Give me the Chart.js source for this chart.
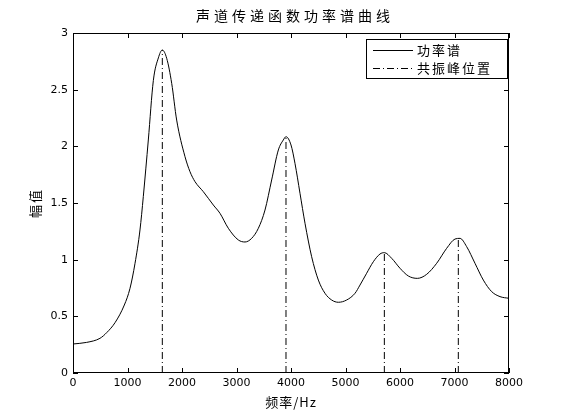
<!DOCTYPE html>
<html>
<head>
<meta charset="utf-8">
<script src="https://cdn.jsdelivr.net/npm/chart.js@4/dist/chart.umd.min.js"></script>
<style>
  html, body { margin: 0; padding: 0; background: #fff; }
  canvas { display: block; }
</style>
</head>
<body>
<canvas id="psdChart" width="562" height="420"></canvas>
<script>
// power spectrum curve
const freqHz = [0, 250, 495, 618, 771, 942, 1046, 1138, 1229, 1290, 1382, 1474, 1566, 1639,
    1719, 1811, 1902, 2055, 2147, 2239, 2391, 2575, 2697, 2850, 3033, 3156, 3278, 3401,
    3523, 3645, 3768, 3859, 3908, 4000, 4073, 4165, 4257, 4379, 4502, 4624, 4746, 4869,
    5021, 5174, 5266, 5388, 5511, 5633, 5713, 5847, 6000, 6153, 6318, 6490, 6673, 6856,
    7009, 7101, 7223, 7376, 7529, 7682, 7835, 8000];
const power = [0.256, 0.27, 0.306, 0.356, 0.444, 0.60, 0.747, 0.968, 1.262, 1.556, 2.056, 2.58, 2.78, 2.85,
    2.777, 2.556, 2.232, 1.909, 1.776, 1.688, 1.6, 1.482, 1.409, 1.277, 1.174, 1.156, 1.188, 1.277,
    1.438, 1.703, 1.968, 2.056, 2.085, 2.012, 1.85, 1.586, 1.321, 1.026, 0.82, 0.703, 0.644, 0.624,
    0.644, 0.703, 0.776, 0.88, 0.982, 1.05, 1.062, 1.012, 0.924, 0.856, 0.835, 0.871, 0.968, 1.1,
    1.182, 1.188, 1.115, 0.968, 0.82, 0.718, 0.674, 0.659];

// formant positions
const peakHz = [1639, 3908, 5713, 7070];
const peakAmp = [2.85, 2.085, 1.062, 1.19];

const xTicks = [0, 1000, 2000, 3000, 4000, 5000, 6000, 7000, 8000];
const yTicks = [0, 0.5, 1, 1.5, 2, 2.5, 3];

const titleText = '声道传递函数功率谱曲线';
const xLabel = '频率/Hz';
const yLabel = '幅值';

const cjkFont = '13px "Noto Sans CJK SC", sans-serif';

const curvePts = freqHz.map((f, i) => ({ x: f, y: power[i] }));
const peakPts = [];
peakHz.forEach((f, i) => {
    peakPts.push({ x: f, y: 0 }, { x: f, y: peakAmp[i] }, { x: f, y: null });
});

// box, inward ticks, titles and legend in the Matlab look
const matlabFrame = {
    id: 'matlabFrame',
    afterDraw(chart) {
        const ctx = chart.ctx;
        const a = chart.chartArea;
        const xs = chart.scales.x;
        const ys = chart.scales.y;
        ctx.save();
        ctx.strokeStyle = '#000';
        ctx.lineWidth = 1;
        ctx.strokeRect(Math.round(a.left) + 0.5, Math.round(a.top) + 0.5,
            Math.round(a.right - a.left) - 1, Math.round(a.bottom - a.top) - 1);

        ctx.beginPath();
        xTicks.forEach(v => {
            const px = Math.round(xs.getPixelForValue(v)) + 0.5;
            ctx.moveTo(px, a.bottom); ctx.lineTo(px, a.bottom - 5);
            ctx.moveTo(px, a.top); ctx.lineTo(px, a.top + 5);
        });
        yTicks.forEach(v => {
            const py = Math.round(ys.getPixelForValue(v)) + 0.5;
            ctx.moveTo(a.left, py); ctx.lineTo(a.left + 5, py);
            ctx.moveTo(a.right, py); ctx.lineTo(a.right - 5, py);
        });
        ctx.stroke();

        ctx.fillStyle = '#000';
        ctx.textBaseline = 'middle';
        ctx.textAlign = 'center';
        ctx.font = '14px "Noto Sans CJK SC", sans-serif';
        ctx.letterSpacing = '4px';
        ctx.fillText(titleText, (a.left + a.right) / 2 + 4, 16);

        ctx.font = cjkFont;
        ctx.letterSpacing = '1px';
        ctx.fillText(xLabel, (a.left + a.right) / 2, 402);

        ctx.save();
        ctx.translate(35, (a.top + a.bottom) / 2 + 1);
        ctx.rotate(-Math.PI / 2);
        ctx.letterSpacing = '2px';
        ctx.fillText(yLabel, 1, 0);
        ctx.restore();

        // legend
        const bx = 366, by = 39, bw = 141, bh = 39;
        ctx.fillStyle = '#fff';
        ctx.fillRect(bx, by, bw, bh);
        ctx.strokeRect(bx + 0.5, by + 0.5, bw, bh);
        ctx.textAlign = 'left';
        ctx.fillStyle = '#000';
        ctx.letterSpacing = '2px';
        chart.data.datasets.forEach((ds, i) => {
            const ly = Math.round(by + 11 + i * 18) + 0.5;
            ctx.beginPath();
            ctx.setLineDash(ds.borderDash || []);
            ctx.moveTo(373, ly); ctx.lineTo(413, ly);
            ctx.stroke();
            ctx.setLineDash([]);
            ctx.fillText(ds.label, 417, ly);
        });
        ctx.restore();
    }
};

new Chart(document.getElementById('psdChart'), {
    type: 'line',
    data: {
        datasets: [{
            label: '功率谱',
            data: curvePts,
            borderColor: '#000',
            borderWidth: 1,
            pointRadius: 0,
            cubicInterpolationMode: 'monotone'
        }, {
            label: '共振峰位置',
            data: peakPts,
            borderColor: '#000',
            borderWidth: 1,
            borderDash: [7, 3, 1, 3],
            pointRadius: 0,
            spanGaps: false,
            tension: 0
        }]
    },
    options: {
        responsive: false,
        animation: false,
        devicePixelRatio: 1,
        layout: { padding: { top: 33, right: 53, left: 0, bottom: 0 } },
        plugins: {
            legend: { display: false },
            tooltip: { enabled: false }
        },
        scales: {
            x: {
                type: 'linear',
                min: 0,
                max: 8000,
                grid: { display: false, drawTicks: false },
                border: { display: false },
                ticks: {
                    padding: 4,
                    color: '#000',
                    font: { family: '"DejaVu Sans", sans-serif', size: 11 },
                    maxRotation: 0,
                    callback: v => String(v)
                },
                afterBuildTicks: s => { s.ticks = xTicks.map(v => ({ value: v })); },
                afterFit: s => { s.height = 47; }
            },
            y: {
                type: 'linear',
                min: 0,
                max: 3,
                grid: { display: false, drawTicks: false },
                border: { display: false },
                ticks: {
                    padding: 5,
                    color: '#000',
                    font: { family: '"DejaVu Sans", sans-serif', size: 11 },
                    callback: v => String(v)
                },
                afterBuildTicks: s => { s.ticks = yTicks.map(v => ({ value: v })); },
                afterFit: s => { s.width = 73; }
            }
        }
    },
    plugins: [matlabFrame]
});
</script>
</body>
</html>
